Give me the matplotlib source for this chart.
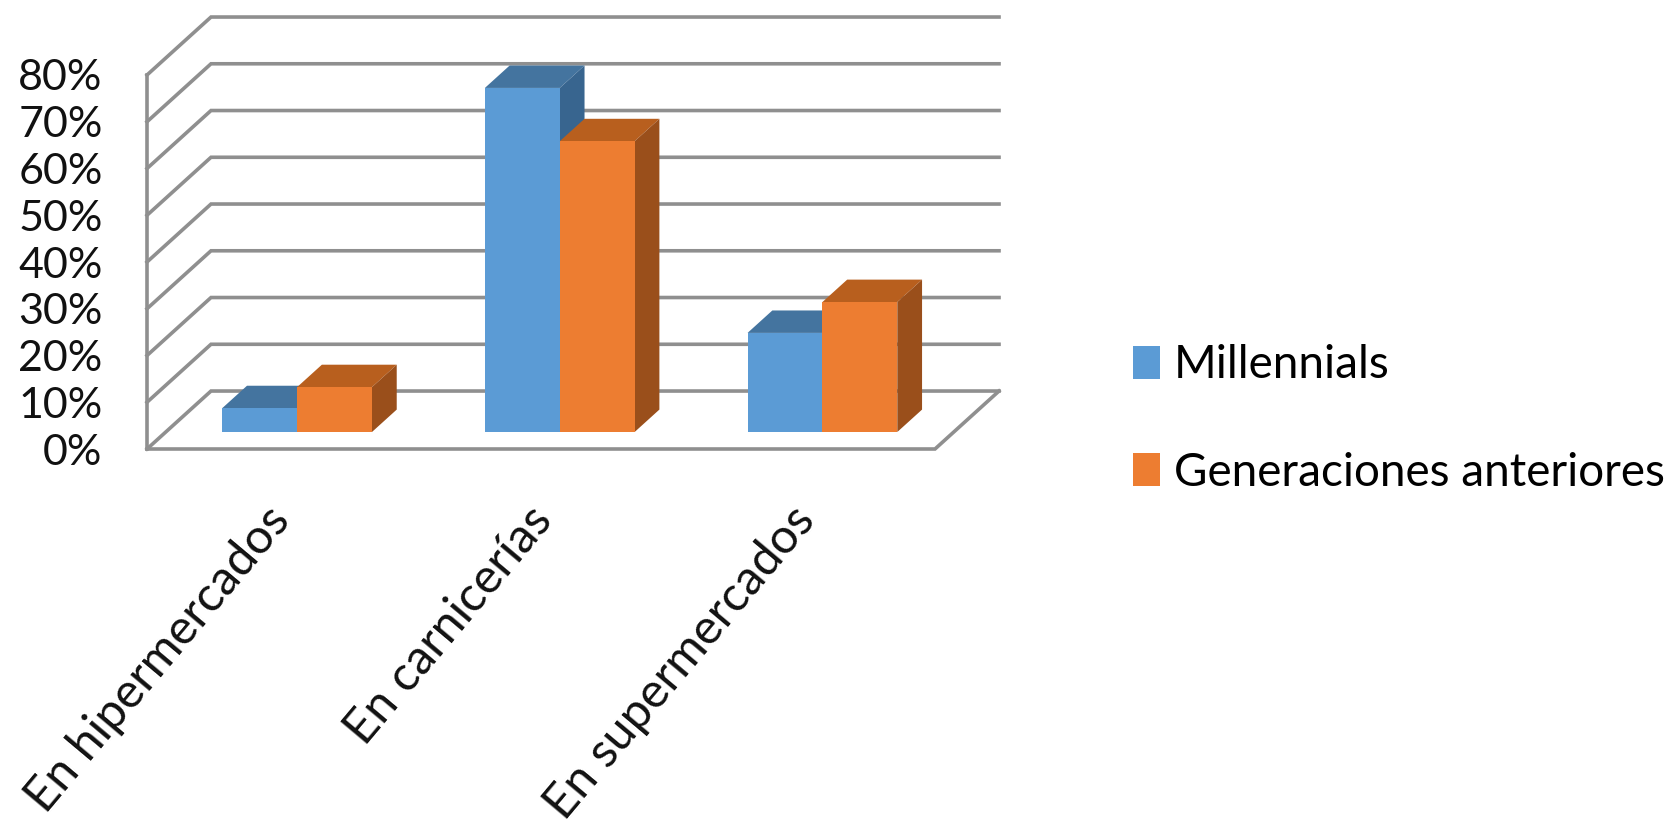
#!/usr/bin/env python
# -*- coding: utf-8 -*-
import sys
import numpy as np
import matplotlib as mpl
mpl.use('Agg')
import matplotlib.pyplot as plt
from matplotlib.patches import Patch
from matplotlib.transforms import Affine2D

categories = ['En hipermercados', 'En carnicerías', 'En supermercados']
millennials = [5.1, 73.6, 21.2]
anteriores = [9.6, 62.2, 27.8]
y_ticks = [0, 10, 20, 30, 40, 50, 60, 70, 80]

W, H = 1672, 830
LINE = '#8f8f8f'
# oblique depth of the fake 3d box, in data units
DX, DY = 0.2437, 12.4
D0, D1 = 0.293, 0.68
BAR_W = 0.285


def draw_bar(axe, x, value, front, top, side):
  base = D0 * DY
  x0 = x + D0 * DX
  ox, oy = (D1 - D0) * DX, (D1 - D0) * DY
  t = base + value
  axe.fill([x0, x0 + BAR_W, x0 + BAR_W + ox, x0 + ox],
           [t, t, t + oy, t + oy], color=top, lw=0, clip_on=False, zorder=3)
  axe.fill([x0 + BAR_W, x0 + BAR_W + ox, x0 + BAR_W + ox, x0 + BAR_W],
           [base, base + oy, t + oy, t], color=side, lw=0, clip_on=False, zorder=3)
  axe.bar(x0, value, BAR_W, bottom=base, align='edge', color=front, lw=0,
          clip_on=False, zorder=3)


def main():
  plt.rcParams['font.family'] = ['Lato', 'DejaVu Sans']
  fig = plt.figure(figsize=(W / 100, H / 100), dpi=100)
  axe = fig.add_axes([147 / W, 1 - 449 / H, 788 / W, 374 / H])
  axe.set_xlim(0, 3)
  axe.set_ylim(0, 80)
  for s in axe.spines.values():
    s.set_visible(False)

  # walls and floor
  lw = 2.6
  for v in y_ticks:
    axe.plot([0, DX, 3 + DX], [v, v + DY, v + DY], color=LINE, lw=lw,
             clip_on=False, zorder=1, solid_joinstyle='miter')
  axe.plot([0, 0], [0, 80], color=LINE, lw=lw, clip_on=False, zorder=1)
  axe.plot([0, 3, 3 + DX], [0, 0, DY], color=LINE, lw=lw, clip_on=False, zorder=1,
           solid_joinstyle='miter')

  for i in range(len(categories)):
    x = i + 0.5
    draw_bar(axe, x - BAR_W, millennials[i], '#5b9bd5', '#44749f', '#38658f')
    draw_bar(axe, x, anteriores[i], '#ed7d31', '#b85f1e', '#9a4f1b')

  axe.set_yticks(y_ticks)
  axe.set_yticklabels([f'{v}%' for v in y_ticks], fontsize=31, color='#111111')
  axe.tick_params(axis='y', length=0, pad=32)
  axe.set_xticks(np.arange(len(categories)) + 0.5)
  axe.set_xticklabels(categories, fontsize=35, color='#111111', rotation=50,
                      ha='right', va='top', rotation_mode='anchor')
  axe.tick_params(axis='x', length=0, pad=32)
  for label in axe.get_xticklabels():
    label.set_transform(label.get_transform() + Affine2D().translate(-14, -5))

  handles = [Patch(color='#5b9bd5', lw=0), Patch(color='#ed7d31', lw=0)]
  fig.legend(handles, ['Millennials', 'Generaciones anteriores'], fontsize=33,
             frameon=False, loc='center left', bbox_to_anchor=(1133 / W, 1 - 419 / H),
             handlelength=0.59, handleheight=0.74, handletextpad=0.3,
             labelspacing=1.42, borderpad=0, borderaxespad=0)

  fig.savefig('out.png', dpi=100)


if __name__ == "__main__":
  sys.exit(main())
